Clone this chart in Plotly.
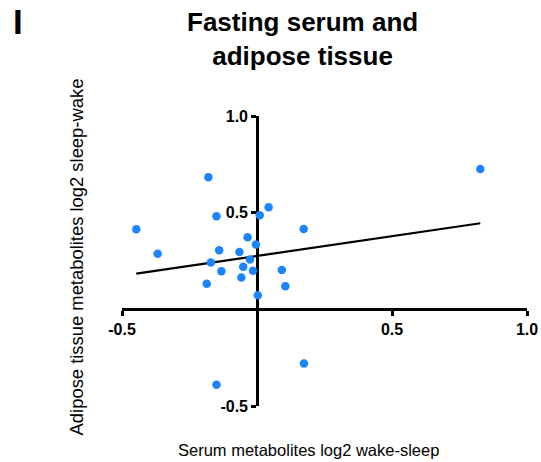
import numpy as np
import plotly.graph_objects as go

# Data
serum_x = [0.827, -0.180, 0.043, 0.010, -0.150, -0.447, 0.173, -0.035, -0.004, -0.368,
           -0.140, -0.065, -0.026, -0.171, -0.051, -0.132, -0.015, 0.092, -0.058, -0.186,
           0.105, 0.003, 0.174, -0.150]
adipose_y = [0.726, 0.683, 0.528, 0.487, 0.481, 0.414, 0.416, 0.373, 0.335, 0.287,
             0.306, 0.296, 0.258, 0.242, 0.220, 0.197, 0.199, 0.204, 0.165, 0.132,
             0.120, 0.073, -0.280, -0.390]
tick_vals = [-0.5, 0.5, 1.0]
tick_text = ["-0.5", "0.5", "1.0"]

slope, intercept = np.polyfit(serum_x, adipose_y, 1)
fit_x = np.array([min(serum_x), max(serum_x)])
fit_y = slope * fit_x + intercept

FONT = "Liberation Sans, Arial, sans-serif"

fig = go.Figure()
fig.add_trace(go.Scatter(x=fit_x, y=fit_y, mode="lines",
                         line=dict(color="black", width=2.2), hoverinfo="skip"))
fig.add_trace(go.Scatter(x=serum_x, y=adipose_y, mode="markers",
                         marker=dict(color="#1a85ff", size=8.5, line=dict(width=0))))

axis_common = dict(range=[-0.5, 1.0], tickvals=tick_vals, ticktext=tick_text,
                   showgrid=False, zeroline=False, showline=True,
                   linecolor="black", linewidth=2.6, ticks="outside",
                   ticklen=5, tickwidth=2.6, tickcolor="black",
                   tickfont=dict(family=FONT, size=16, color="black", weight="bold"),
                   anchor="free", position=1/3, layer="below traces", automargin=False)

fig.update_layout(
    width=541, height=462,
    margin=dict(l=122.3, r=14.3, t=115.7, b=56),
    paper_bgcolor="white", plot_bgcolor="white",
    showlegend=False,
    xaxis=dict(**axis_common, domain=[0, 1]),
    yaxis=dict(**axis_common, domain=[0, 1]),
    font=dict(family=FONT, color="black"),
)

fig.add_annotation(text="Fasting serum and<br>adipose tissue", xref="paper", yref="paper",
                   x=0.4456, y=1.0, yshift=111, xanchor="center", yanchor="top", showarrow=False,
                   font=dict(family=FONT, size=26, color="black", weight="bold"))
fig.add_annotation(text="I", xref="paper", yref="paper", x=0, xshift=-111, y=1.0, yshift=116,
                   xanchor="left", yanchor="top", showarrow=False,
                   font=dict(family=FONT, size=35, color="black", weight="bold"))
fig.add_annotation(text="Serum metabolites log2 wake-sleep", xref="paper", yref="paper",
                   x=0.4604, y=0, yshift=-44, xanchor="center", yanchor="middle", showarrow=False,
                   font=dict(family=FONT, size=16.5, color="black"))
fig.add_annotation(text="Adipose tissue metabolites log2 sleep-wake", xref="paper", yref="paper",
                   x=0, xshift=-45.3, y=0.5, yshift=4.3, xanchor="center", yanchor="middle",
                   textangle=-90, showarrow=False,
                   font=dict(family=FONT, size=18.4, color="black"))

fig.write_html("out.html", config={"displayModeBar": False},
               post_script="document.body.style.margin='0';document.body.style.overflow='hidden';")
